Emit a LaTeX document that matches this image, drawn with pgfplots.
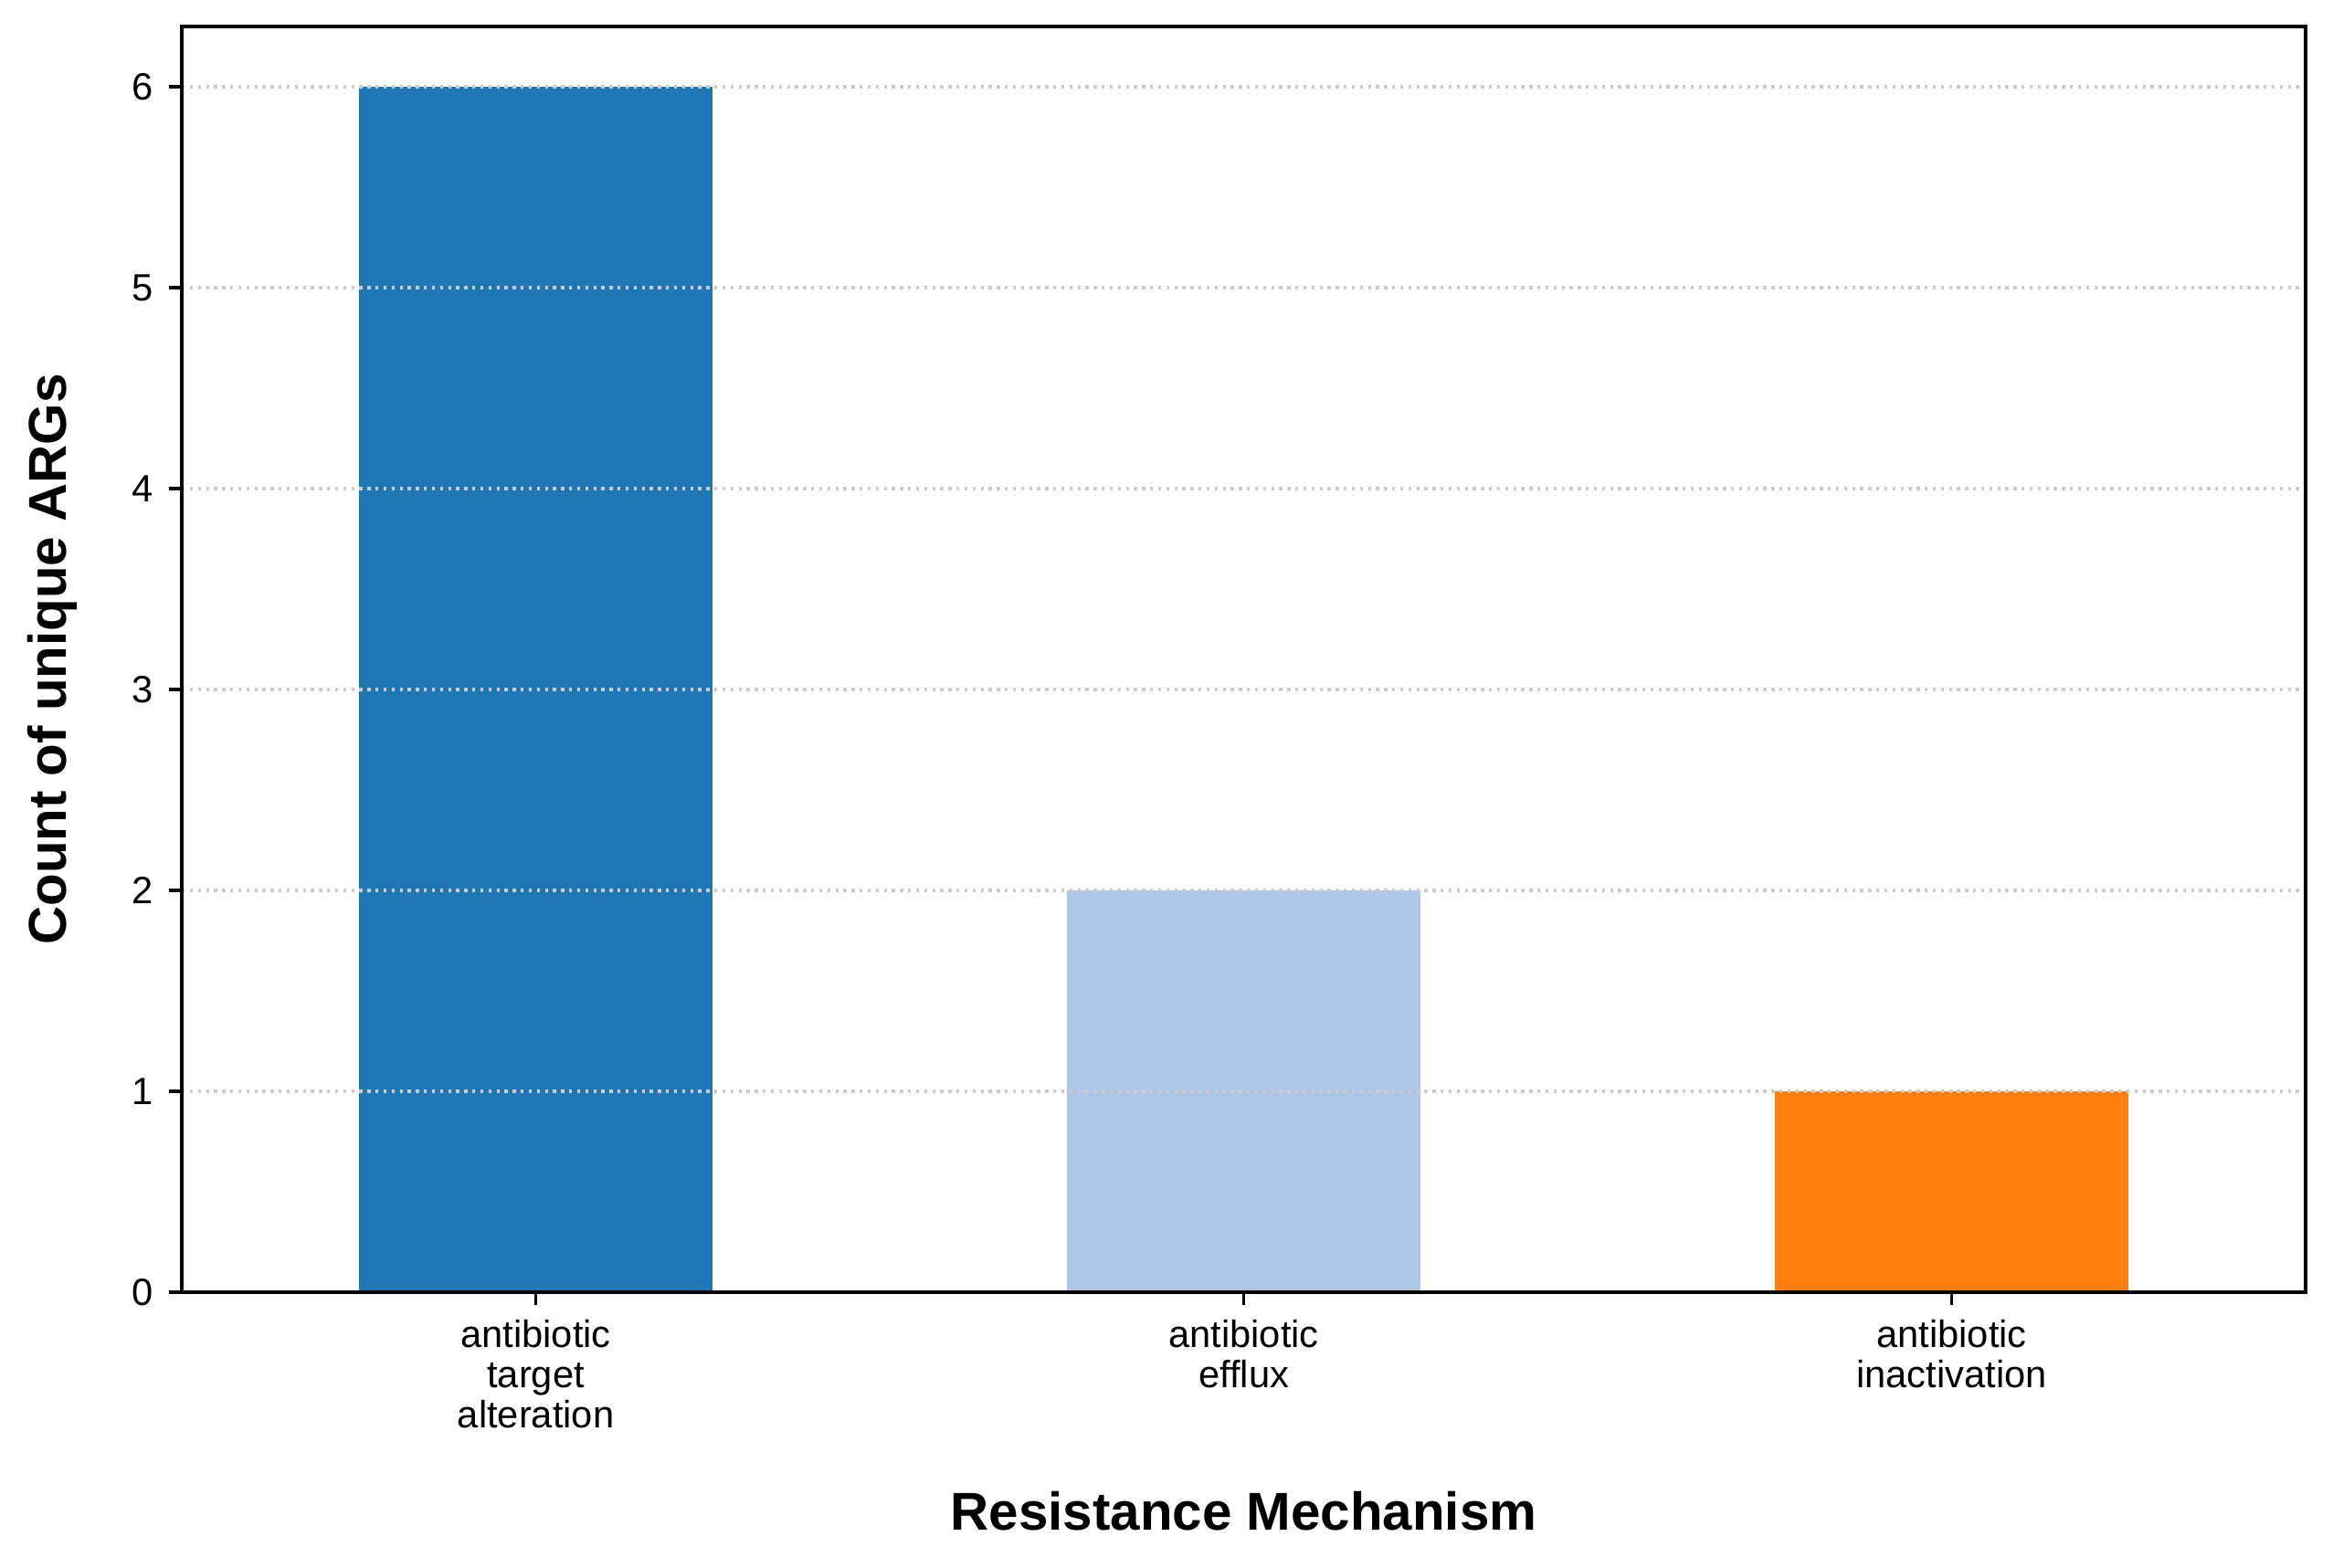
\documentclass[border=0pt]{standalone}
\usepackage{fontspec}
\setmainfont{Liberation Sans}
\usepackage{pgfplots}
\pgfplotsset{compat=1.18}
\definecolor{c1}{HTML}{1F77B4}
\definecolor{c2}{HTML}{AEC7E8}
\definecolor{c3}{HTML}{FF7F0E}
\definecolor{gridc}{HTML}{CCCCCC}
\begin{document}
\begin{tikzpicture}
\begin{axis}[
 name=ax,
 scale only axis,
 width=558bp, height=332.6bp,
 xmin=-0.5, xmax=2.5, ymin=0, ymax=6.3,
 axis on top,
 axis line style={line width=0.8bp, black},
 tick style={line width=0.8bp, black},
 major tick length=3.5bp,
 tick align=outside,
 tick pos=left,
 xtick={0,1,2},
 xticklabels={{antibiotic\\target\\alteration},{antibiotic\\efflux},{antibiotic\\inactivation}},
 ytick={0,1,2,3,4,5,6},
 ymajorgrids,
 major grid style={gridc, line width=0.8bp, dash pattern=on 0.8bp off 1.32bp},
 /pgf/number format/assume math mode=true,
 xticklabel style={font=\fontsize{10bp}{10.56bp}\selectfont, align=center, anchor=north, inner sep=0pt, yshift=-3.5bp},
 yticklabel style={font=\fontsize{10bp}{12bp}\selectfont, anchor=east, inner sep=0pt, xshift=-3.9bp},
 xlabel={Resistance Mechanism},
 ylabel={Count of unique ARGs},
 label style={font=\fontsize{14bp}{17bp}\selectfont\bfseries},
 xlabel style={at={(axis description cs:0.5,-0.18822)}, anchor=base},
 ylabel style={at={(axis description cs:-0.05466,0.5)}, anchor=base},
]
\addplot[ybar, bar width=0.5, bar shift=0pt, fill=c1, draw=none] coordinates {(0,6)};
\addplot[ybar, bar width=0.5, bar shift=0pt, fill=c2, draw=none] coordinates {(1,2)};
\addplot[ybar, bar width=0.5, bar shift=0pt, fill=c3, draw=none] coordinates {(2,1)};
\end{axis}
\pgfresetboundingbox
\path ([xshift=-47.8bp, yshift=-72.5bp]ax.south west) rectangle ([xshift=7.2bp, yshift=7.0bp]ax.north east);
\end{tikzpicture}
\end{document}
